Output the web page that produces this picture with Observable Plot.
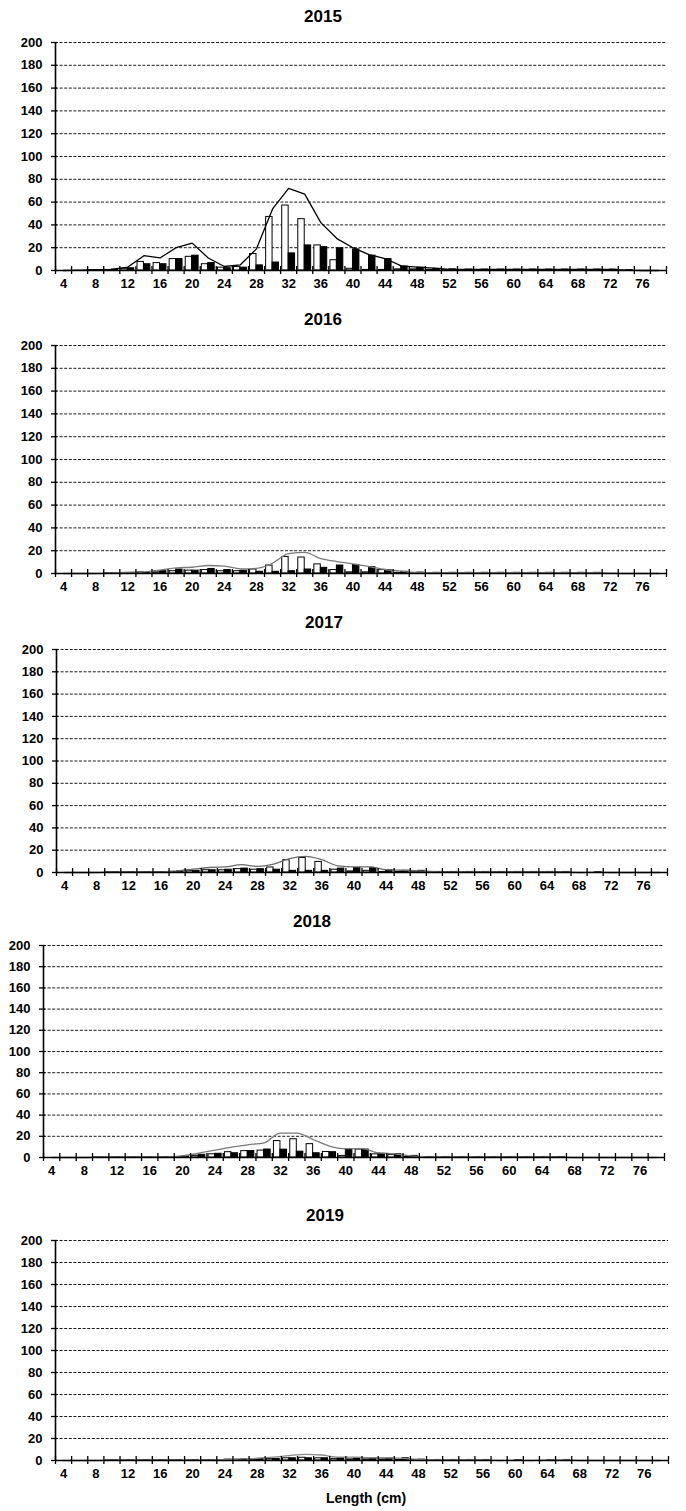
<!DOCTYPE html>
<html><head><meta charset="utf-8">
<script src="https://cdn.jsdelivr.net/npm/d3@7"></script>
<script src="https://cdn.jsdelivr.net/npm/@observablehq/plot@0.6"></script>
<style>
body{margin:0;background:#fff;}
#root{position:relative;width:686px;height:1511px;font-family:"Liberation Sans",Arial,sans-serif;background:#fff;overflow:hidden;}
.title{position:absolute;font-weight:bold;font-size:17px;transform:translate(-50%,-50%);white-space:nowrap;}
.panel{position:absolute;left:0;}
.xlab{position:absolute;font-weight:bold;font-size:14px;transform:translate(-50%,-50%);white-space:nowrap;}
</style></head><body><div id="root"></div>
<script>
// Length classes (cm)
const lengths = [4,6,8,10,12,14,16,18,20,22,24,26,28,30,32,34,36,38,40,42,44,46,48,50,52,54,56,58,60,62,64,66,68,70,72,74,76,78];
const xTickLabels = [4,8,12,16,20,24,28,32,36,40,44,48,52,56,60,64,68,72,76];
const xTickMarks = [3,5,7,9,11,13,15,17,19,21,23,25,27,29,31,33,35,37,39,41,43,45,47,49,51,53,55,57,59,61,63,65,67,69,71,73,75,77,79];
const yTicks = [0,20,40,60,80,100,120,140,160,180,200];
const years = ["2015","2016","2017","2018","2019"];

const white2015 = [0,0,0.3,0.5,1.5,7.5,6.5,10,12,5.5,2.5,3,14.5,47,57,45,22,9,1.5,0.5,0.5,1,1,0.5,0.3,0.3,0.3,0.3,0.3,0.3,0.3,0.3,0.3,0.3,0.3,0,0,0];
const black2015 = [0,0,0.3,0.8,2,5.5,5.5,10,13,6.5,2,2.5,4.5,7,15,22,20.5,19.5,18.5,13,10,3.5,2.5,1.5,1,0.8,0.8,0.8,0.8,0.8,0.8,0.8,0.8,0.8,0.8,0.3,0,0];
const total2015 = [0,0.3,0.5,1,3,13,11,20,24,11,3.5,5,19,54,72,67,42,28,20,14,10.5,4,3,2,1,1,1,1,1,1,1,1,1,1,1,0.3,0,0];

const white2016 = [0,0,0,0.2,0.5,1,1,2,2.5,3,2,2,3.5,7,14.5,14,8,3,1,1,3,0.5,0.3,0.2,0.2,0.2,0.2,0.2,0.2,0.2,0.2,0.2,0.2,0.2,0,0,0,0];
const black2016 = [0,0,0,0.3,0.5,0.5,2,3.5,2.5,4,3,2.5,1.5,1.5,2,3.5,5,7,7.5,5.5,3,1.5,0.8,0.6,0.6,0.6,0.6,0.6,0.6,0.6,0.6,0.6,0.6,0.6,0,0,0,0];
const total2016 = [0,0,0,0.5,1,1.5,3,5,5.5,7,6.5,4,4.5,9,17.5,18.5,13,10.5,8.5,6,3.5,2,1,0.8,0.8,0.8,0.8,0.8,0.8,0.8,0.8,0.8,0.8,0.8,0.3,0,0,0];

const white2017 = [0,0,0,0.2,0.2,0.2,0.2,0.5,1.5,2,2,3,2.5,4.5,11,13,9.5,2.5,1,1.5,0.5,0.5,0.3,0.3,0.2,0.2,0.2,0.2,0.2,0.2,0.2,0.2,0,0,0,0,0,0];
const black2017 = [0,0,0,0.3,0.3,0.3,0.3,1,1.5,2,2.5,3.5,3,2.5,1.5,1.5,1.5,3.5,4,4,2,1.5,1.5,0.5,0.5,0.5,0.5,0.5,0.5,0.5,0.5,0.5,0,0.3,0,0,0,0];
const total2017 = [0,0,0,0.5,0.5,0.5,0.5,1.5,3,4.5,5,7,5.5,7.5,12.5,14.5,11.5,6,5,5,2.5,2,1.5,0.8,0.5,0.5,0.5,0.5,0.5,0.5,0.5,0.5,0,0.3,0,0,0,0];

const white2018 = [0,0,0,0.2,0.2,0.2,0.2,0.3,0.5,1.5,3,5,6,6.5,15.5,17.2,12.6,5.2,1.5,7.5,3,2.5,0.5,0.2,0.2,0.2,0.2,0.2,0.2,0.2,0.2,0.2,0,0,0,0,0,0];
const black2018 = [0,0,0,0.3,0.3,0.3,0.3,0.5,1,2.5,3.5,4,6,7.5,7.4,5.5,4,5,8,7.5,3.5,3,1.5,0.5,0.5,0.5,0.5,0.5,0.5,0.5,0.5,0.5,0,0,0,0,0,0];
const total2018 = [0,0,0,0.5,0.5,0.5,0.5,0.5,1.5,4,7,9.8,12,13.8,23,23,17,10.8,8.3,8.3,4.3,3.5,1.5,0.5,0.5,0.5,0.5,0.5,0.5,0.5,0.5,0.5,0,0,0,0,0,0];

const white2019 = [0,0,0,0.2,0.2,0.2,0.2,0.2,0.2,0.2,0.3,0.5,1,1.5,2,2.5,2,1.5,1,1,1,0.5,0.3,0.2,0.2,0.2,0.2,0,0,0,0,0,0,0,0,0,0,0];
const black2019 = [0,0,0,0.3,0.3,0.3,0.3,0.3,0.3,0.3,0.8,1,1.5,1.5,2,2,2,2,2,2,2,2,0.8,0.5,0.5,0.5,0.5,0,0.3,0,0.5,0.5,0,0,0,0,0,0];
const total2019 = [0,0,0,0.3,0.3,0.3,0.3,0.3,0.3,0.3,1,1.5,2,3,4.5,5.5,5,3,3,2.5,2.5,2,1,0.5,0.5,0.5,0.5,0,0.3,0,0.5,0.5,0,0,0,0,0,0];

const series = {
  "2015": [white2015, black2015, total2015],
  "2016": [white2016, black2016, total2016],
  "2017": [white2017, black2017, total2017],
  "2018": [white2018, black2018, total2018],
  "2019": [white2019, black2019, total2019]
};

// layout per panel: y of 200 line, y of 0 line, plot left/right, title centre
const layout = {
  "2015": {y200: 42, y0: 270, left: 55, right: 666, tx: 323, ty: 17, line: "#000"},
  "2016": {y200: 345, y0: 573, left: 55, right: 666, tx: 323, ty: 320, line: "#7a7a7a"},
  "2017": {y200: 649, y0: 872, left: 56, right: 667, tx: 324, ty: 623, line: "#6a6a6a"},
  "2018": {y200: 945, y0: 1157, left: 43, right: 664, tx: 312, ty: 922, line: "#7a7a7a"},
  "2019": {y200: 1240, y0: 1460, left: 55, right: 668, tx: 325, ty: 1216, line: "#8a8a8a"}
};

const root = document.getElementById("root");
const mt = 6, mb = 26;

for (const yr of years) {
  const [w, b, t] = series[yr];
  const L = layout[yr];
  const rows = lengths.map((len, i) => ({len, white: w[i], black: b[i], total: t[i]}));
  const chart = Plot.plot({
    width: 686,
    height: (L.y0 - L.y200) + mt + mb,
    marginLeft: L.left, marginRight: 686 - L.right, marginTop: mt, marginBottom: mb,
    x: {type: "linear", domain: [3, 79]},
    y: {domain: [0, 200]},
    style: {fontFamily: "'Liberation Sans', Arial, sans-serif", fontSize: "13px", fontWeight: "bold", color: "black", background: "transparent", overflow: "visible"},
    marks: [
      Plot.ruleY(yTicks.filter(v => v > 0), {x1: 3, x2: 79, stroke: "black", strokeWidth: 0.9, strokeDasharray: "3,1.6"}),
      Plot.rectY(rows.filter(d => d.white > 0), {x1: d => d.len - 0.8, x2: d => d.len, y1: 0, y2: "white", fill: "white", stroke: "black", strokeWidth: 1}),
      Plot.rectY(rows.filter(d => d.black > 0), {x1: d => d.len, x2: d => d.len + 0.8, y1: 0, y2: "black", fill: "black", stroke: "black", strokeWidth: 1}),
      Plot.line(rows, {x: "len", y: "total", stroke: L.line, strokeWidth: 1.3, curve: yr === "2015" ? "linear" : "monotone-x"}),
      Plot.ruleY([0], {x1: 3, x2: 79, stroke: "black", strokeWidth: 1.6}),
      Plot.ruleX([3], {y1: 0, y2: 200, stroke: "black", strokeWidth: 1.6}),
      Plot.ruleX(xTickMarks, {y1: 0, y2: 0, insetTop: -4, insetBottom: -4, stroke: "black", strokeWidth: 1.3}),
      Plot.ruleY(yTicks, {x1: 3, x2: 3, insetLeft: -4, insetRight: -2, stroke: "black", strokeWidth: 1.3}),
      Plot.axisX({ticks: xTickLabels, tickSize: 0, tickPadding: 8, label: null, tickFormat: d => String(d)}),
      Plot.axisY({ticks: yTicks, tickSize: 0, tickPadding: 13, label: null, tickFormat: d => String(d)})
    ]
  });
  chart.classList.add("panel");
  chart.style.top = (L.y200 - mt) + "px";
  root.appendChild(chart);
  const title = document.createElement("div");
  title.className = "title";
  title.textContent = yr;
  title.style.left = L.tx + "px";
  title.style.top = L.ty + "px";
  root.appendChild(title);
}
const xl = document.createElement("div");
xl.className = "xlab";
xl.textContent = "Length (cm)";
xl.style.left = "366px";
xl.style.top = "1498px";
root.appendChild(xl);
</script>
</body></html>
